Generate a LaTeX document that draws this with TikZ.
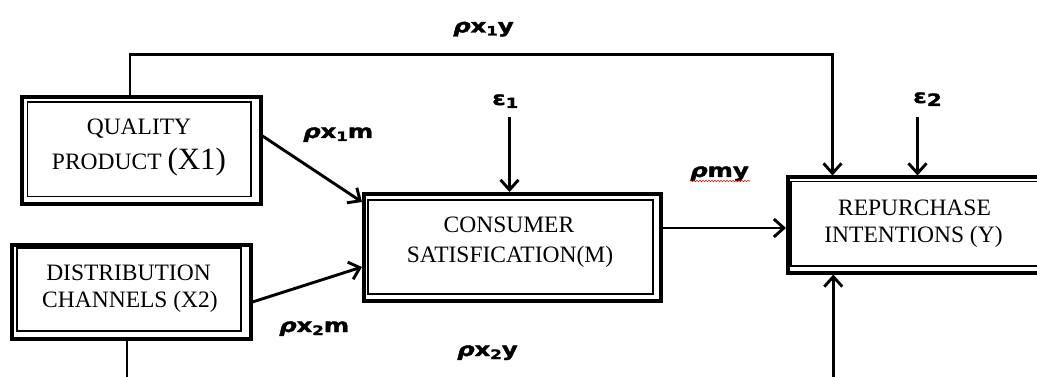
\documentclass[tikz,border=0pt]{standalone}
\usepackage{fontspec}
\setmainfont{Liberation Serif}
\newfontfamily\lblf{DejaVu Sans}[BoldFeatures={FakeBold=1.6},BoldItalicFeatures={FakeBold=1.6}]
\usetikzlibrary{arrows.meta,calc,decorations.pathmorphing}
\newcommand{\lab}[1]{\scalebox{1.28}[1]{\lblf\bfseries #1}}
\newcommand{\sbs}[2][13]{\raisebox{-3pt}{\fontsize{#1}{#1}\selectfont #2}}
\newcommand{\rh}{{\itshape ρ}}
\begin{document}
\begin{tikzpicture}[x=1pt,y=-1pt,
  outerbox/.style={draw, line width=4pt, inner sep=0pt},
  ibox/.style={line width=1.3pt},
  conn/.style={line width=2.9pt, line join=miter, -{Straight Barb[length=10pt,width=18pt]}},
  plainline/.style={line width=2.9pt},
  txt/.style={font=\fontsize{23.5}{28}\selectfont, inner sep=0pt, anchor=base},
  lbl/.style={inner sep=0pt, anchor=base west, font=\fontsize{19}{22}\selectfont}]
\useasboundingbox (0,0) rectangle (1037,377);
\clip (0,0) rectangle (1037,377);

% boxes
\node[outerbox, minimum width=238.5pt, minimum height=106.5pt] (x1) at (141.25,150.75) {};
\draw[ibox] (27.5,102) rectangle (251,196.5);
\node[outerbox, minimum width=238.5pt, minimum height=94pt] (x2) at (131.25,291.5) {};
\draw[ibox] (17,248) rectangle (241,331);
\node[outerbox, minimum width=296.5pt, minimum height=107pt] (m) at (512.25,247.5) {};
\draw[ibox] (368,200) rectangle (653,294);
\node[outerbox, minimum width=272pt, minimum height=95pt] (y) at (924,225) {};
\draw[ibox] (791,181.5) rectangle (1055,266);

% box texts
\node[txt] (x1a) at (139,135) {QUALITY};
\node[txt] (x1b) at (139,170) {PRODUCT {\fontsize{31}{31}\selectfont(X1)}};
\node[txt] (x2a) at (128.5,280) {DISTRIBUTION};
\node[txt] (x2b) at (130,307) {CHANNELS (X2)};
\node[txt] (ma) at (509,233) {CONSUMER};
\node[txt] (mb) at (510,262) {SATISFICATION(M)};
\node[txt] (ya) at (914.5,215) {REPURCHASE};
\node[txt] (yb) at (913.5,243) {INTENTIONS (Y)};

% connectors
\coordinate (tl) at (130,54.5);
\coordinate (tr) at (832.5,54.5);
\draw[conn] (x1.north -| tl) -- (tl) -- (tr) -- (tr |- y.north);
\coordinate (e1s) at (509.5,117);
\draw[conn] (e1s) -- (e1s |- m.north);
\coordinate (e2s) at (917.5,117);
\draw[conn] (e2s) -- (e2s |- y.north);
\draw[conn] (x1.east |- 0,136) -- (m.west |- 0,202);
\draw[conn] (x2.east |- 0,302) -- (m.west |- 0,267);
\draw[conn] (m.east |- 0,228) -- (y.west |- 0,228);
\coordinate (x2d) at (127,382);
\draw[plainline] (x2.south -| x2d) -- (x2d);
\coordinate (yd) at (833.3,382);
\draw[conn] (yd) -- (yd |- y.south);

% labels
\node[lbl] (l1) at (453,32.5) {\lab{\rh x\sbs{1}y}};
\node[lbl] (l2) at (303,138) {\lab{\rh x\sbs{1}m}};
\node[lbl] (l3) at (690,177) {\lab{\rh my}};
\node[lbl] (l4) at (279,332) {\lab{\rh x\sbs{2}m}};
\node[lbl] (l5) at (457,356) {\lab{\rh x\sbs{2}y}};
\node[lbl] (e1) at (492,105) {\lab{ε\sbs[14]{1}}};
\node[lbl] (e2) at (913,103) {\lab{ε\sbs[17]{2}}};
\draw[red, line width=0.6pt, decorate, decoration={snake, amplitude=0.7pt, segment length=3pt}] (690,181) -- (750,181);
\end{tikzpicture}
\end{document}
